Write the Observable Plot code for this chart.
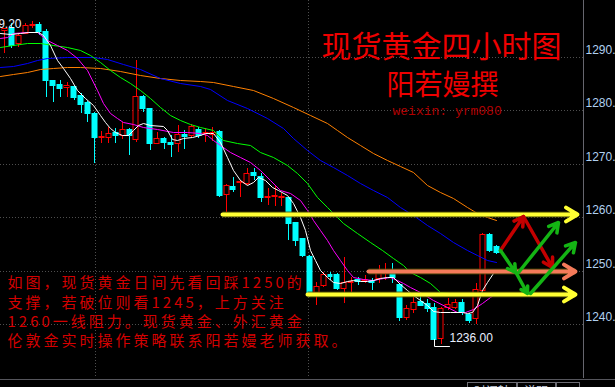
<!DOCTYPE html>
<html><head><meta charset="utf-8">
<script src="https://cdn.jsdelivr.net/npm/d3@7"></script>
<script src="https://cdn.jsdelivr.net/npm/@observablehq/plot@0.6"></script>
<style>
html,body{margin:0;padding:0;background:#000;overflow:hidden;}
#wrap{position:relative;width:615px;height:387px;overflow:hidden;}
#wrap svg{display:block;}
.bline{position:absolute;left:0;top:379px;width:615px;height:1px;background:#55555c;}
.tab{position:absolute;top:382px;height:14px;border:1px solid #6c6c74;border-bottom:none;color:#c8d0e0;font:12px "Noto Sans CJK SC";line-height:16px;padding-left:6px;box-sizing:border-box;overflow:hidden;white-space:nowrap;}
</style></head><body><div id="wrap"></div>
<script>
// ---- candle data (4h XAUUSD) ----
const opens = [
1295.0,1295.2,1292.6,1294.5,1295.9,1296.0,1294.7,1285.5,1284.8,1284.3,
1284.4,1282.7,1281.4,1279.3,1275.0,1275.0,1275.7,1275.4,1276.4,1274.7,
1282.5,1280.3,1273.9,1274.7,1274.0,1273.9,1275.5,1275.4,1276.4,1275.7,
1275.6,1276.0,1264.4,1265.7,1266.6,1266.4,1268.3,1267.6,1263.8,1264.0,
1263.8,1263.6,1259.0,1256.0,1252.6,1246.1,1247.4,1249.3,1249.3,1246.8,
1247.9,1248.4,1248.3,1248.2,1248.7,1249.7,1249.8,1247.4,1241.4,1242.9,
1244.2,1243.8,1243.1,1237.5,1243.3,1243.3,1244.0,1241.8,1241.2,1246.4,
1256.7,1254.5];
const highs = [
1295.4,1296.4,1294.5,1296.4,1296.7,1296.5,1295.2,1285.7,1285.7,1285.3,
1284.6,1283.3,1281.8,1279.7,1276.2,1276.9,1276.7,1277.9,1276.7,1289.4,
1282.9,1280.5,1276.0,1275.0,1275.4,1277.3,1276.4,1277.5,1276.9,1276.7,
1276.9,1276.4,1266.3,1267.6,1267.0,1269.3,1269.3,1268.3,1265.5,1265.9,
1264.6,1263.8,1259.2,1256.2,1253.0,1248.0,1249.8,1249.8,1249.6,1252.6,
1248.9,1248.9,1249.3,1248.7,1251.1,1251.5,1251.5,1247.8,1243.6,1245.1,
1246.1,1244.8,1244.0,1243.3,1245.0,1244.8,1244.8,1242.2,1247.8,1257.1,
1257.1,1254.9];
const lows = [
1290.8,1291.7,1291.9,1294.3,1295.4,1294.1,1282.5,1281.6,1282.5,1282.5,
1282.0,1279.5,1277.9,1270.2,1273.9,1273.9,1273.9,1274.7,1271.7,1274.1,
1279.7,1272.6,1273.7,1272.8,1271.3,1272.2,1272.8,1274.9,1274.9,1274.1,
1274.3,1263.8,1261.0,1264.8,1263.8,1266.1,1267.0,1262.9,1262.3,1262.1,
1262.1,1255.8,1254.7,1252.6,1245.1,1243.6,1247.0,1248.3,1246.4,1244.0,
1246.1,1247.4,1247.8,1246.4,1247.8,1248.3,1247.8,1240.7,1240.8,1242.2,
1243.6,1242.3,1236.0,1236.4,1242.7,1242.9,1241.8,1240.3,1240.1,1246.3,
1253.5,1253.2];
const closes = [
1295.2,1292.2,1293.9,1295.8,1296.0,1294.9,1285.7,1284.8,1284.2,1284.5,
1282.5,1281.2,1279.5,1275.0,1275.1,1275.6,1275.5,1276.4,1275.4,1282.5,
1280.5,1273.9,1274.7,1274.1,1273.8,1275.4,1275.3,1276.9,1275.4,1275.8,
1275.7,1264.2,1265.9,1265.3,1266.7,1268.1,1267.9,1263.8,1263.9,1264.1,
1263.9,1259.0,1255.8,1253.0,1245.9,1247.0,1249.3,1249.1,1246.8,1247.8,
1248.0,1248.2,1248.4,1248.0,1249.8,1249.8,1248.9,1241.4,1242.9,1244.0,
1243.6,1243.1,1237.3,1242.9,1243.7,1244.0,1242.3,1240.8,1246.4,1256.7,
1253.9,1253.6];

// ---- moving averages, sampled along the bars (bar index, price) ----
const maWhiteIdx = [-0.6,0.8,2.3,3.4,4.9,5.6,6.6,7.6,8.5,9.5,10.5,11.6,12.8,13.8,14.5,15.3,16.0,17.0,17.9,18.6,19.3,20.0,21.0,22.9,23.5,24.2,24.9,25.8,27.1,28.2,29.0,29.7,30.1,31.1,32.1,33.0,34.0,35.0,35.9,36.6,37.6,38.6,39.5,40.8,41.7,42.7,43.4,44.1,44.8,45.6,46.6,47.4,48.4,49.5,50.3,51.3,52.3,53.2,54.2,55.2,56.1,57.1,58.1,59.0,60.0,61.0,61.9,62.9,64.3,66.0,66.8,67.5,68.2,68.9,69.7,70.5,71.0];
const maWhiteVal = [1294.5,1294.3,1294.5,1294.7,1294.7,1294.1,1292.2,1289.4,1287.9,1286.1,1283.8,1282.3,1281.0,1279.2,1277.8,1276.7,1276.0,1275.4,1275.4,1276.4,1277.3,1277.7,1277.3,1277.1,1276.4,1274.7,1274.5,1274.9,1275.0,1275.4,1275.8,1275.8,1275.8,1274.1,1271.3,1268.9,1267.0,1266.1,1266.6,1267.6,1267.0,1265.7,1265.1,1264.2,1262.7,1260.1,1257.7,1253.9,1252.1,1250.2,1248.9,1247.9,1247.8,1248.1,1248.3,1248.1,1248.1,1248.3,1248.7,1248.9,1248.9,1247.6,1246.4,1245.5,1244.6,1243.6,1242.5,1242.3,1242.3,1242.3,1242.1,1242.3,1243.6,1246.4,1247.9,1249.6,1250.2];
const maMagentaIdx = [-0.6,0.4,1.3,3.3,4.7,6.2,7.6,9.0,10.5,11.9,13.4,14.2,15.3,16.3,17.1,18.6,20.0,22.0,24.3,26.4,28.2,29.2,30.1,31.1,32.6,34.0,35.5,36.9,38.3,39.8,41.2,42.7,43.7,44.5,45.6,46.6,47.4,48.4,49.5,50.3,51.8,53.2,54.6,55.7,56.7,57.5,58.5,60.0,61.9,63.9,65.3,66.5,67.6,68.9,70.1,71.0];
const maMagentaVal = [1293.6,1293.7,1294.5,1294.7,1294.7,1293.2,1292.2,1291.3,1289.8,1287.6,1283.8,1281.4,1279.5,1278.6,1277.8,1277.5,1276.9,1276.5,1276.0,1276.0,1275.8,1275.4,1274.5,1273.6,1272.2,1271.3,1270.4,1268.9,1267.0,1265.1,1264.6,1263.3,1261.4,1259.5,1257.7,1255.8,1253.9,1252.1,1250.2,1248.9,1248.5,1248.3,1248.7,1248.9,1248.3,1247.8,1247.0,1246.1,1244.6,1243.3,1242.3,1242.3,1242.9,1244.0,1245.1,1245.9];
const maGreenIdx = [-0.6,1.3,3.3,5.2,7.0,9.0,10.9,12.4,13.8,15.3,16.7,18.1,19.6,21.0,22.5,23.9,25.4,26.8,28.2,30.1,31.6,33.6,35.5,36.9,38.8,40.8,42.2,43.7,45.1,46.6,47.4,48.9,50.9,52.8,54.5,56.1,57.5,58.5,60.0,61.4,62.9,64.3,66.0,67.6,69.1,71.0];
const maGreenVal = [1291.9,1292.2,1292.6,1292.6,1292.2,1291.9,1291.3,1290.4,1289.1,1287.6,1286.3,1285.1,1283.8,1282.3,1280.7,1279.2,1278.2,1277.5,1276.9,1276.4,1274.5,1273.9,1273.6,1272.2,1271.3,1269.8,1268.3,1266.5,1263.8,1262.0,1260.8,1259.0,1257.1,1255.4,1253.9,1252.4,1251.1,1249.8,1248.9,1247.8,1246.1,1245.9,1245.9,1245.9,1245.9,1245.9];
const maBlueIdx = [-0.6,1.3,3.3,4.7,6.2,9.0,12.8,14.8,17.1,19.6,22.5,25.4,28.2,29.7,32.1,35.0,37.9,40.2,41.7,43.7,45.6,47.4,49.5,51.3,53.2,55.2,57.1,59.0,61.0,62.9,64.8,66.8,68.2,69.7,71.0];
const maBlueVal = [1288.1,1288.3,1288.9,1289.4,1289.8,1290.0,1290.0,1289.6,1288.7,1287.8,1286.1,1285.1,1284.6,1284.0,1282.0,1280.5,1278.6,1276.7,1274.9,1272.6,1270.7,1269.4,1267.9,1266.5,1265.1,1263.8,1262.0,1260.5,1258.6,1257.1,1255.4,1253.9,1253.0,1252.1,1251.7];
const maOrangeIdx = [-0.6,1.3,3.3,5.2,7.0,9.0,10.9,13.8,16.7,19.6,22.5,25.4,28.2,30.1,33.0,35.9,38.8,41.7,44.1,46.6,48.0,49.5,51.3,53.2,55.2,57.1,59.0,61.0,62.9,64.8,66.8,68.2,69.7,71.0];
const maOrangeVal = [1286.4,1286.8,1287.2,1287.8,1287.9,1288.1,1288.1,1287.9,1287.4,1286.6,1286.1,1285.7,1285.5,1285.3,1284.6,1283.8,1282.3,1280.7,1279.2,1277.7,1276.4,1275.0,1273.6,1272.1,1270.7,1269.6,1268.5,1266.1,1264.8,1263.6,1262.0,1260.8,1260.1,1259.5];

// ---- axis / grid ----
const yTicks = [1240, 1250, 1260, 1270, 1280, 1290];
const timeGrid = [13.1, 43.8];
const extremeLabels = ["1299.20", "1236.00"];

// ---- hand-drawn annotations (bar index, price) ----
const levelValues = [1260.6, 1250.0, 1245.7];
const levelStart = [31.4, 52.5, 43.7];
const levelEnd = [82.6, 82.4, 82.4];
const levelKind = ["yellow", "salmon", "yellow"];
const zigFromIdx = [71.5, 74.9, 71.5, 74.1, 73.9, 75.9];
const zigFromVal = [1253.9, 1260.3, 1253.9, 1249.8, 1249.6, 1245.8];
const zigToIdx   = [74.9, 79.0, 73.7, 79.9, 75.4, 82.4];
const zigToVal   = [1260.3, 1250.7, 1249.8, 1259.2, 1245.8, 1255.5];
const zigKind    = ["red", "red", "green", "green", "green", "green"];

// ---- texts ----
const titleText = "现货黄金四小时图";
const authorText = "阳若嫚撰";
const weixinText = "weixin: yrm080";
const bodyLines = [
  "如图，现货黄金日间先看回踩1250的",
  "支撑，若破位则看1245，上方关注",
  "1260一线阻力。现货黄金、外汇黄金",
  "伦敦金实时操作策略联系阳若嫚老师获取。"
];
const tabLabels = ["时间轴", "说明", ""];

// ---- build ----
const RED = "#ff0000", CYAN = "#00ffff";
const candles = d3.range(opens.length).map(i => ({
  i, open: opens[i], high: highs[i], low: lows[i], close: closes[i],
  up: closes[i] >= opens[i]
}));
const ma = (idx, val) => idx.map((x, k) => ({x, y: val[k]}));
const levels = levelValues.map((v, k) => ({x1: levelStart[k], x2: levelEnd[k], y: v, kind: levelKind[k]}));
const zig = zigFromIdx.map((x, k) => ({x1: x, y1: zigFromVal[k], x2: zigToIdx[k], y2: zigToVal[k], kind: zigKind[k]}));
const levelColor = {yellow: "#ffff33", salmon: "#f47a5a"};
const zigColor = {red: "#c40000", green: "#14b414"};
const lowIdx = d3.minIndex(lows);
const lowVal = lows[lowIdx];
const bracket = [{x: lowIdx, y: lowVal + 1.2}, {x: lowIdx, y: lowVal}, {x: lowIdx + 2.2, y: lowVal}];

const xDomain = [-0.62, 83.51];
const yDomain = [1230.0, 1300.65];
const CJK = "Noto Sans CJK SC";

const chart = Plot.plot({
  width: 615, height: 387,
  marginTop: 0, marginRight: 32, marginBottom: 9, marginLeft: 0,
  style: {background: "#000", overflow: "hidden"},
  x: {type: "linear", domain: xDomain, round: true, axis: null},
  y: {type: "linear", domain: yDomain, round: true, axis: null},
  marks: [
    Plot.ruleY(yTicks, {y: d => d, stroke: "#4e4e4e", strokeDasharray: "1,2"}),
    Plot.ruleX(timeGrid, {x: d => d, stroke: "#4e4e4e", strokeDasharray: "1,2"}),
    Plot.ruleX([xDomain[1]], {x: d => d, stroke: "#66666e"}),
    // candles
    Plot.ruleX(candles, {x: "i", y1: "low", y2: "high", stroke: d => d.up ? RED : CYAN}),
    Plot.rect(candles, {
      x1: d => d.i - 0.36, x2: d => d.i + 0.36, y1: "open", y2: "close",
      fill: d => d.up ? "#000000" : CYAN, stroke: d => d.up ? RED : CYAN,
      insetTop: -0.5, insetBottom: -0.5
    }),
    // moving averages
    Plot.line(ma(maOrangeIdx, maOrangeVal), {x: "x", y: "y", stroke: "#ff8000", strokeWidth: 1}),
    Plot.line(ma(maBlueIdx, maBlueVal), {x: "x", y: "y", stroke: "#0000ff", strokeWidth: 1}),
    Plot.line(ma(maGreenIdx, maGreenVal), {x: "x", y: "y", stroke: "#00ff00", strokeWidth: 1}),
    Plot.line(ma(maMagentaIdx, maMagentaVal), {x: "x", y: "y", stroke: "#ff00ff", strokeWidth: 1}),
    Plot.line(ma(maWhiteIdx, maWhiteVal), {x: "x", y: "y", stroke: "#ffffff", strokeWidth: 1}),
    // low marker
    Plot.line(bracket, {x: "x", y: "y", stroke: "#ffffff", strokeWidth: 1}),
    Plot.text([extremeLabels[1]], {x: () => lowIdx, y: () => lowVal, text: d => d, dx: 15, dy: -8,
      textAnchor: "start", fill: "#e8eeff", fontSize: 12, fontFamily: "Liberation Sans"}),
    Plot.text([extremeLabels[0]], {frameAnchor: "top-left", text: d => d, dx: 21, dy: 19,
      textAnchor: "end", fill: "#e8eeff", fontSize: 12, fontFamily: "Liberation Sans"}),
    // level arrows
    Plot.link(levels, {x1: "x1", x2: "x2", y1: "y", y2: "y", stroke: "#4a4a00", strokeWidth: 6, strokeOpacity: 0.8}),
    Plot.arrow(levels, {x1: "x1", x2: "x2", y1: "y", y2: "y", stroke: d => levelColor[d.kind],
      strokeWidth: 4, headLength: 5, headAngle: 62}),
    // zig-zag arrows
    Plot.arrow(zig, {x1: "x1", y1: "y1", x2: "x2", y2: "y2", stroke: d => zigColor[d.kind],
      strokeWidth: 3.5, headLength: 4.5, headAngle: 60}),
    // price labels on the right
    Plot.text(yTicks, {y: d => d, text: d => d.toFixed(2), frameAnchor: "right", dx: 2, dy: -7,
      textAnchor: "start", fill: "#b0d0f0", fontSize: 12, fontFamily: "Liberation Sans"}),
    // titles
    Plot.text([titleText], {frameAnchor: "top-left", text: d => d, dx: 321, dy: 35, textAnchor: "start",
      fill: "#ee0000", fontSize: 30, fontFamily: CJK}),
    Plot.text([authorText], {frameAnchor: "top-left", text: d => d, dx: 386, dy: 75, textAnchor: "start",
      fill: "#ee0000", fontSize: 28, fontFamily: CJK}),
    Plot.text([weixinText], {frameAnchor: "top-left", text: d => d, dx: 392, dy: 105, textAnchor: "start",
      fill: "#b00000", fontSize: 13, fontFamily: "Liberation Mono"}),
    Plot.text([bodyLines.join("\n")], {frameAnchor: "top-left", text: d => d, dx: 7, dy: 310.5,
      textAnchor: "start", lineAnchor: "middle", lineHeight: 1.3,
      fill: "#d40000", fontSize: 15, fontFamily: CJK})
  ]
});
d3.select(chart).selectAll("text")
  .filter(function () { return this.textContent.indexOf(bodyLines[0].slice(0, 2)) >= 0; })
  .attr("letter-spacing", "3px").style("letter-spacing", "3px");

const wrap = document.getElementById("wrap");
wrap.appendChild(chart);
const bl = document.createElement("div"); bl.className = "bline"; wrap.appendChild(bl);
const tabLeft = [467, 517, 556], tabWidth = [50, 39, 24];
tabLabels.forEach((t, k) => {
  const d = document.createElement("div");
  d.className = "tab"; d.textContent = t;
  d.style.left = tabLeft[k] + "px"; d.style.width = tabWidth[k] + "px";
  wrap.appendChild(d);
});
</script>
</body></html>
